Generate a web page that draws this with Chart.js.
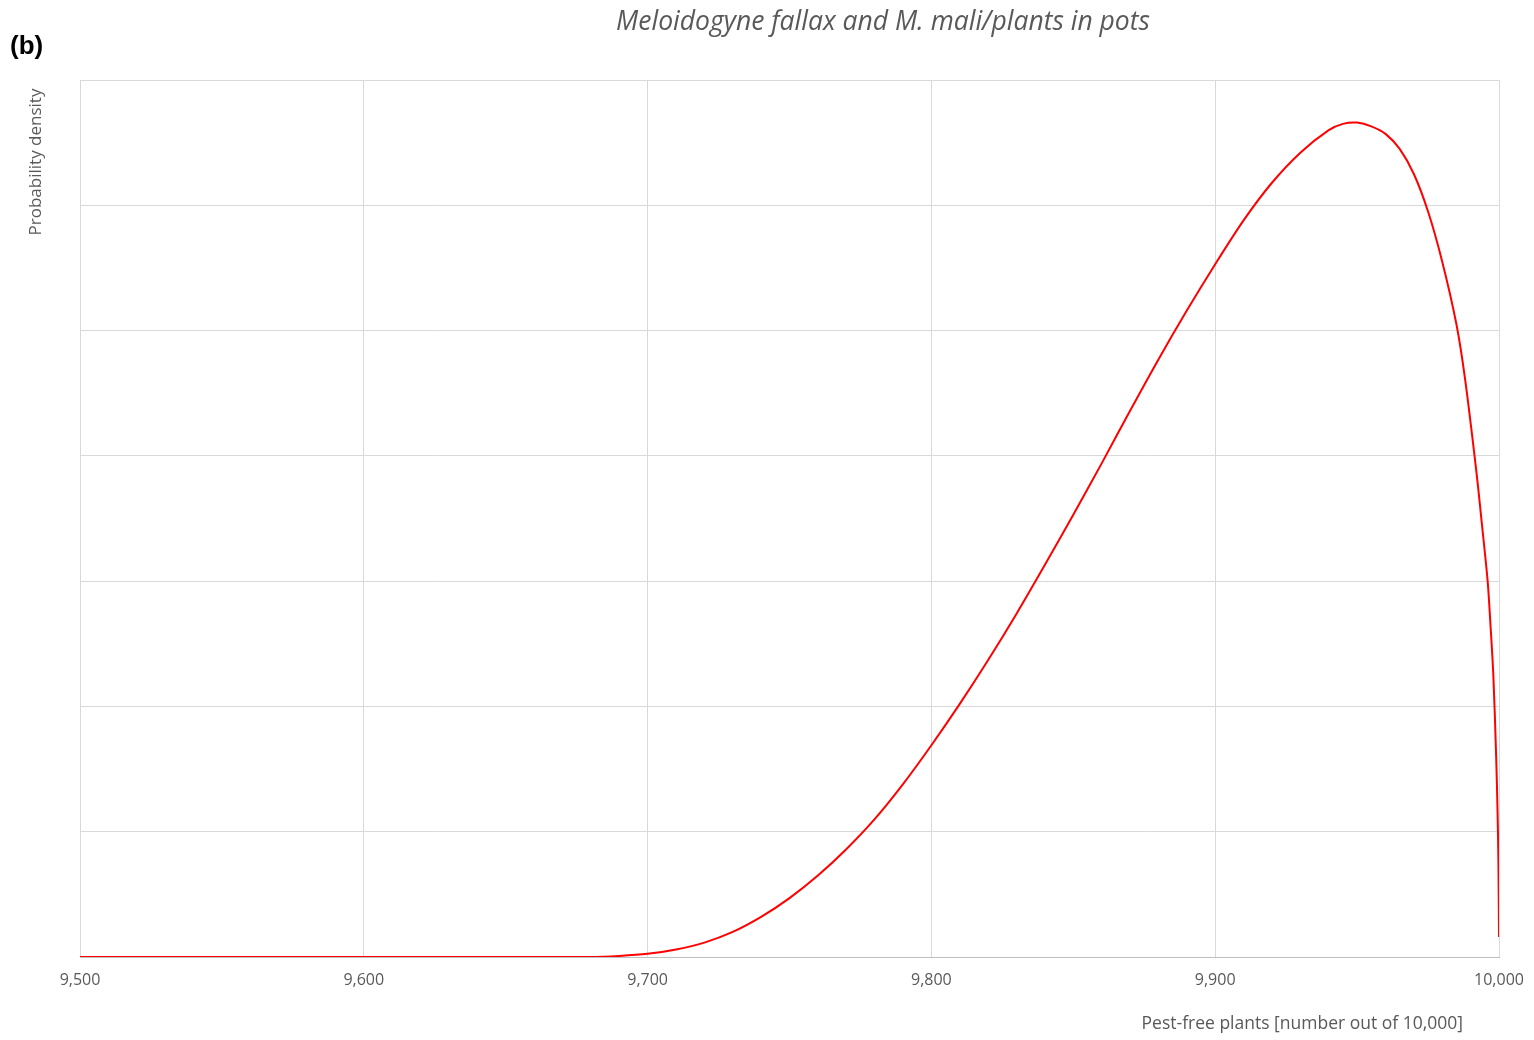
<!DOCTYPE html>
<html>
<head>
<meta charset="utf-8">
<script src="https://cdn.jsdelivr.net/npm/chart.js@4/dist/chart.umd.min.js"></script>
<style>
html,body{margin:0;padding:0;background:#fff;}
#wrap{width:1534px;height:1040px;position:relative;}
</style>
</head>
<body>
<div id="wrap"><canvas id="c" width="1534" height="1040"></canvas></div>
<script>
// Data
const pestFree = [9500, 9600, 9680, 9690, 9700, 9710, 9720, 9730, 9740, 9750, 9760, 9770, 9780, 9790, 9800, 9810, 9820, 9830, 9840, 9850, 9860, 9870, 9880, 9890, 9900, 9910, 9920, 9930, 9940, 9945, 9950, 9955, 9960, 9965, 9970, 9975, 9980, 9985, 9988, 9992, 9994, 9996, 9997, 9998, 9999, 9999.5, 9999.8, 10000];
const density  = [0, 0, 0, 0.008, 0.025, 0.06, 0.115, 0.2, 0.32, 0.47, 0.65, 0.86, 1.1, 1.38, 1.69, 2.02, 2.37, 2.74, 3.13, 3.53, 3.94, 4.36, 4.77, 5.16, 5.53, 5.88, 6.18, 6.42, 6.6, 6.65, 6.66, 6.63, 6.57, 6.45, 6.25, 5.95, 5.55, 5.05, 4.62, 3.88, 3.45, 3.0, 2.65, 2.25, 1.6, 1.15, 0.75, 0.16];
const xTicks = [9500, 9600, 9700, 9800, 9900, 10000];
const titleText = 'Meloidogyne fallax and M. mali/plants in pots';
const panelLabel = '(b)';
const yTitle = 'Probability density';
const xTitle = 'Pest-free plants [number out of 10,000]';

const points = pestFree.map((x, i) => ({x: x, y: density[i]}));

const textPlugin = {
  id: 'texts',
  afterDraw(chart) {
    const ctx = chart.ctx;
    ctx.save();
    ctx.fillStyle = '#000';
    ctx.font = 'bold 26px "Liberation Sans", Arial, sans-serif';
    ctx.textAlign = 'left';
    ctx.textBaseline = 'middle';
    ctx.fillText(panelLabel, 10, 47);

    ctx.fillStyle = '#595959';
    ctx.font = 'italic 26.5px "Open Sans", sans-serif';
    ctx.textAlign = 'center';
    ctx.fillText(titleText, 883, 22);

    ctx.font = '17.5px "Open Sans", sans-serif';
    ctx.textAlign = 'right';
    ctx.fillText(xTitle, 1463, 1024);

    ctx.translate(36, 162);
    ctx.rotate(-Math.PI / 2);
    ctx.font = '17px "Open Sans", sans-serif';
    ctx.textAlign = 'center';
    ctx.fillText(yTitle, 0, 0);
    ctx.restore();
  }
};

new Chart(document.getElementById('c'), {
  type: 'scatter',
  data: {
    datasets: [{
      data: points,
      showLine: true,
      borderColor: '#ff0000',
      backgroundColor: '#ff0000',
      borderWidth: 2,
      pointRadius: 0,
      tension: 0.3
    }]
  },
  options: {
    responsive: false,
    animation: false,
    layout: {padding: {left: 80, right: 35, top: 80, bottom: 0}},
    plugins: {legend: {display: false}, tooltip: {enabled: false}, title: {display: false}},
    scales: {
      x: {
        type: 'linear',
        min: 9500, max: 10000,
        afterBuildTicks(axis) { axis.ticks = xTicks.map(v => ({value: v})); },
        afterFit(axis) { axis.height = 83; axis.paddingLeft = 0; axis.paddingRight = 0; },
        grid: {color: '#d9d9d9', lineWidth: 1, tickLength: 0, drawTicks: false},
        border: {color: '#bfbfbf', width: 1},
        ticks: {color: '#595959', font: {family: '"Open Sans", sans-serif', size: 16}, padding: 14, maxRotation: 0}
      },
      y: {
        min: 0, max: 7,
        afterFit(axis) { axis.width = 0; axis.paddingTop = 0; axis.paddingBottom = 0; },
        ticks: {display: false, stepSize: 1},
        grid: {color: '#d9d9d9', lineWidth: 1, drawTicks: false},
        border: {color: '#d9d9d9', width: 1}
      }
    }
  },
  plugins: [textPlugin, {
    id: 'topRight',
    afterDraw(chart) {
      const a = chart.chartArea, ctx = chart.ctx;
      ctx.save();
      ctx.strokeStyle = '#d9d9d9'; ctx.lineWidth = 1;
      ctx.beginPath();
      ctx.moveTo(a.left, a.top + 0.5); ctx.lineTo(a.right, a.top + 0.5);
      ctx.stroke();
      ctx.restore();
    }
  }]
});
</script>
</body>
</html>
